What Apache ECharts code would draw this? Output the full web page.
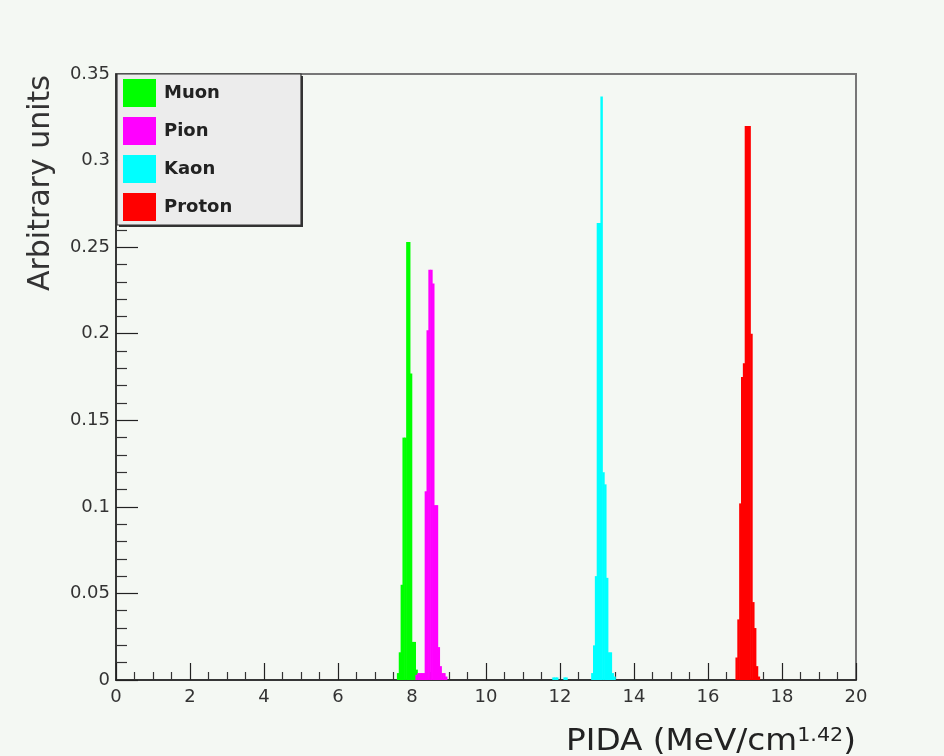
<!DOCTYPE html>
<html>
<head>
<meta charset="utf-8">
<script src="https://cdn.jsdelivr.net/npm/echarts@6/dist/echarts.min.js"></script>
<style>
html,body{margin:0;padding:0;background:#f4f8f3;}
#chart{width:944px;height:756px;}
</style>
</head>
<body>
<div id="chart"></div>
<script>
// ---- data ----
const seriesNames = ['Muon', 'Pion', 'Kaon', 'Proton'];
const seriesColors = ['#00ff00', '#ff00ff', '#00ffff', '#ff0000'];
const binWidth = 0.05;

const muonStart = 7.60;
const muonValues = [0.004, 0.016, 0.055, 0.140, 0.140, 0.253, 0.253, 0.177, 0.022, 0.022, 0.006, 0.003];

const pionStart = 8.10;
const pionValues = [0.003, 0.004, 0.004, 0.004, 0.004, 0.109, 0.202, 0.237, 0.237, 0.229, 0.101, 0.101, 0.019, 0.008, 0.004, 0.004, 0.002];

const kaonStart = 11.80;
const kaonValues = [0.0015, 0.0015, 0.0015, 0, 0, 0, 0.0015, 0.0015, 0,
  0, 0, 0, 0, 0, 0, 0, 0, 0, 0, 0, 0,
  0.004, 0.020, 0.060, 0.264, 0.264, 0.337, 0.120, 0.113, 0.059, 0.016, 0.016, 0.004, 0.002];

const protonStart = 16.75;
const protonValues = [0.013, 0.035, 0.102, 0.175, 0.183, 0.320, 0.320, 0.320, 0.200, 0.045, 0.030, 0.008, 0.002];

const xTickValues = [0, 2, 4, 6, 8, 10, 12, 14, 16, 18, 20];
const yTickValues = [0, 0.05, 0.1, 0.15, 0.2, 0.25, 0.3, 0.35];

// ---- bins: [lowEdge, highEdge, value] ----
function histBins(start, values) {
  return values.map((v, i) => [
    +(start + i * binWidth).toFixed(4),
    +(start + (i + 1) * binWidth).toFixed(4),
    v
  ]).filter(b => b[2] > 0);
}
const allBins = [
  histBins(muonStart, muonValues),
  histBins(pionStart, pionValues),
  histBins(kaonStart, kaonValues),
  histBins(protonStart, protonValues)
];

function renderBin(params, api) {
  const p0 = api.coord([api.value(0), api.value(2)]);
  const p1 = api.coord([api.value(1), 0]);
  return {
    type: 'rect',
    shape: {x: p0[0] - 0.3, y: p0[1], width: (p1[0] - p0[0]) + 0.6, height: p1[1] - p0[1]},
    style: api.style({stroke: null, lineWidth: 0})
  };
}

const FONT = 'DejaVu Sans';
const chart = echarts.init(document.getElementById('chart'), null, {renderer: 'canvas'});

const option = {
  backgroundColor: '#f4f8f3',
  animation: false,
  grid: {
    left: 116, right: 88, top: 74, bottom: 76,
    show: true, borderColor: '#777', borderWidth: 2, backgroundColor: 'transparent'
  },
  xAxis: {
    type: 'value', min: xTickValues[0], max: xTickValues[xTickValues.length - 1], interval: 2,
    axisLine: {onZero: false, lineStyle: {color: '#222', width: 1.5}},
    axisTick: {inside: true, length: 17, lineStyle: {color: '#222', width: 1.2}},
    minorTick: {show: true, splitNumber: 4, length: 8, lineStyle: {color: '#333', width: 1.2}},
    splitLine: {show: false},
    axisLabel: {fontFamily: FONT, fontSize: 18, color: '#333', margin: 8}
  },
  yAxis: {
    type: 'value', min: yTickValues[0], max: yTickValues[yTickValues.length - 1], interval: 0.05,
    axisLine: {onZero: false, lineStyle: {color: '#222', width: 1.5}},
    axisTick: {inside: true, length: 22, lineStyle: {color: '#222', width: 1.2}},
    minorTick: {show: true, splitNumber: 5, length: 11, lineStyle: {color: '#333', width: 1.2}},
    splitLine: {show: false},
    axisLabel: {fontFamily: FONT, fontSize: 18, color: '#333', margin: 6}
  },
  legend: {
    orient: 'vertical', left: 123, top: 79, padding: 0,
    itemWidth: 33, itemHeight: 28, itemGap: 10, icon: 'rect',
    data: seriesNames,
    textStyle: {fontFamily: FONT, fontWeight: 'bold', fontSize: 18, color: '#222', padding: [0, 0, 0, 3]},
    z: 10
  },
  graphic: [
    {type: 'rect', z: 5, shape: {x: 119, y: 76, width: 184, height: 151}, style: {fill: '#333'}},
    {type: 'rect', z: 6, shape: {x: 117, y: 74, width: 184, height: 151}, style: {fill: '#ececec', stroke: '#333', lineWidth: 1.2}},
    {type: 'text', z: 20, x: 41, y: 75, rotation: Math.PI / 2,
      style: {text: 'Arbitrary units', fontFamily: FONT, fontSize: 30, fill: '#333', align: 'right', verticalAlign: 'middle'}},
    {type: 'text', z: 20, x: 856, y: 757, scaleX: 1.09,
      style: {
        text: '{a|PIDA (MeV/cm}{s|1.42}{a|)}',
        align: 'right', verticalAlign: 'bottom',
        rich: {
          a: {fontFamily: FONT, fontSize: 30, fill: '#222', verticalAlign: 'bottom'},
          s: {fontFamily: FONT, fontSize: 19, fill: '#222', verticalAlign: 'top'}
        }
      }}
  ],
  series: seriesNames.map((name, k) => ({
    name: name,
    type: 'custom',
    renderItem: renderBin,
    data: allBins[k],
    encode: {x: [0, 1], y: 2},
    itemStyle: {color: seriesColors[k]},
    clip: true,
    z: 2
  }))
};
chart.setOption(option);
</script>
</body>
</html>
